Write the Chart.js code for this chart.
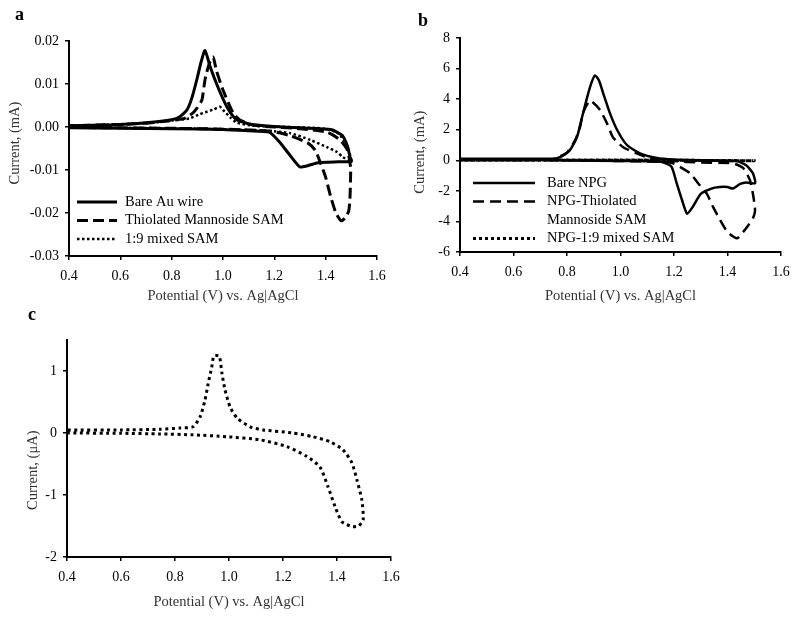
<!DOCTYPE html>
<html>
<head>
<meta charset="utf-8">
<script src="https://cdn.jsdelivr.net/npm/chart.js@4.4.0/dist/chart.umd.min.js"></script>
<style>
  html, body { margin: 0; padding: 0; background: #fff; }
  #wrap { position: relative; width: 800px; height: 620px; overflow: hidden; background: #fff; }
  canvas { position: absolute; }
  #panel-a { left: 0; top: 0; }
  #panel-b { left: 400px; top: 0; }
  #panel-c { left: 0; top: 300px; }
</style>
</head>
<body>
<div id="wrap">
  <canvas id="panel-c" width="400" height="320"></canvas>
  <canvas id="panel-a" width="400" height="310"></canvas>
  <canvas id="panel-b" width="400" height="310"></canvas>
</div>
<script>
// shared x axis (potential, V)
const xTickVals = [0.4, 0.6, 0.8, 1.0, 1.2, 1.4, 1.6];
const xTickLabels = ['0.4', '0.6', '0.8', '1.0', '1.2', '1.4', '1.6'];

// panel a: Au wire, current in mA
const aLabels = ['Bare Au wire', 'Thiolated Mannoside SAM', '1:9 mixed SAM'];
const aYTickVals = [-0.03, -0.02, -0.01, 0.0, 0.01, 0.02];
const aYTickLabels = ['-0.03', '-0.02', '-0.01', '0.00', '0.01', '0.02'];
const aBareV = [0.40, 0.60, 0.80, 1.00, 1.10, 1.18, 1.22, 1.26, 1.30, 1.33, 1.37, 1.45, 1.50, 1.495, 1.485, 1.465, 1.42, 1.30, 1.20, 1.12, 1.08, 1.05, 1.015, 0.98, 0.95, 0.93, 0.915, 0.90, 0.88, 0.86, 0.83, 0.80, 0.70, 0.60, 0.50, 0.40];
const aBareI = [-0.0002, -0.0003, -0.0004, -0.0006, -0.0009, -0.0012, -0.0035, -0.0065, -0.0093, -0.0090, -0.0083, -0.0081, -0.0080, -0.0070, -0.0045, -0.0020, -0.0006, -0.0002, 0.0001, 0.0005, 0.0011, 0.0018, 0.0047, 0.0093, 0.0140, 0.0178, 0.0152, 0.0115, 0.0070, 0.0040, 0.0023, 0.0017, 0.0010, 0.0006, 0.0004, 0.0003];
const aThioV = [0.40, 0.80, 1.00, 1.10, 1.19, 1.26, 1.33, 1.36, 1.38, 1.40, 1.42, 1.44, 1.46, 1.475, 1.49, 1.495, 1.497, 1.497, 1.485, 1.456, 1.405, 1.30, 1.20, 1.12, 1.066, 1.039, 1.00, 0.975, 0.961, 0.945, 0.93, 0.918, 0.90, 0.883, 0.85, 0.80, 0.70, 0.60, 0.40];
const aThioI = [-0.0001, -0.0003, -0.0005, -0.0007, -0.0010, -0.0020, -0.0037, -0.0055, -0.0084, -0.0117, -0.0163, -0.0200, -0.0218, -0.0212, -0.0195, -0.0160, -0.0117, -0.0093, -0.0054, -0.0030, -0.0012, -0.0004, 0.0000, 0.0004, 0.0016, 0.0033, 0.0086, 0.0130, 0.0163, 0.0145, 0.0110, 0.0063, 0.0045, 0.0033, 0.0020, 0.0015, 0.0009, 0.0006, 0.0003];
const aMixV = [0.40, 0.80, 1.00, 1.15, 1.20, 1.26, 1.34, 1.405, 1.444, 1.467, 1.49, 1.50, 1.495, 1.48, 1.45, 1.40, 1.25, 1.12, 1.054, 1.027, 1.00, 0.988, 0.96, 0.93, 0.91, 0.87, 0.80, 0.70, 0.60, 0.40];
const aMixI = [-0.0001, -0.0003, -0.0005, -0.0008, -0.0010, -0.0014, -0.0030, -0.0047, -0.0058, -0.0070, -0.0078, -0.0080, -0.0065, -0.0040, -0.0015, -0.0004, 0.0000, 0.0003, 0.0010, 0.0023, 0.0040, 0.0047, 0.0040, 0.0034, 0.0030, 0.0020, 0.0015, 0.0009, 0.0006, 0.0003];

// panel b: nanoporous gold, current in mA
const bLabels = ['Bare NPG', ['NPG-Thiolated', 'Mannoside SAM'], 'NPG-1:9 mixed SAM'];
const bYTickVals = [-6, -4, -2, 0, 2, 4, 6, 8];
const bYTickLabels = ['-6', '-4', '-2', '0', '2', '4', '6', '8'];
const bBareV = [0.40, 0.60, 0.80, 1.00, 1.15, 1.19, 1.21, 1.23, 1.249, 1.27, 1.30, 1.34, 1.37, 1.40, 1.42, 1.447, 1.47, 1.503, 1.495, 1.47, 1.435, 1.30, 1.20, 1.136, 1.073, 1.024, 0.987, 0.96, 0.935, 0.92, 0.905, 0.89, 0.875, 0.856, 0.837, 0.81, 0.774, 0.75, 0.60, 0.40];
const bBareI = [0.05, 0.05, 0.0, -0.05, -0.1, -0.4, -1.5, -2.6, -3.5, -3.05, -2.2, -1.85, -1.75, -1.75, -1.85, -1.55, -1.45, -1.5, -0.85, -0.33, -0.05, 0.0, 0.05, 0.15, 0.45, 1.0, 2.0, 3.1, 4.4, 5.2, 5.55, 5.0, 4.1, 2.8, 1.5, 0.65, 0.2, 0.1, 0.1, 0.1];
const bThioV = [0.40, 0.80, 1.00, 1.15, 1.197, 1.26, 1.29, 1.323, 1.346, 1.372, 1.40, 1.435, 1.458, 1.48, 1.495, 1.503, 1.497, 1.484, 1.458, 1.42, 1.30, 1.20, 1.11, 1.06, 1.01, 0.972, 0.95, 0.923, 0.886, 0.86, 0.849, 0.83, 0.80, 0.767, 0.74, 0.40];
const bThioI = [0.05, 0.0, -0.05, -0.1, -0.2, -0.85, -1.5, -2.2, -3.05, -3.9, -4.7, -5.1, -4.7, -4.2, -3.8, -3.3, -2.4, -1.3, -0.5, -0.2, -0.15, -0.05, 0.13, 0.45, 0.85, 1.5, 2.4, 3.3, 3.9, 3.1, 2.2, 1.3, 0.5, 0.2, 0.05, 0.05];
const bMixV = [0.40, 1.00, 1.50, 1.00, 0.40];
const bMixI = [0.0, 0.0, -0.03, 0.02, 0.0];

// panel c: 1:9 mixed SAM on Au wire, current in uA
const cYTickVals = [-2, -1, 0, 1];
const cYTickLabels = ['-2', '-1', '0', '1'];
const cMixV = [0.40, 0.60, 0.744, 0.867, 0.993, 1.115, 1.215, 1.289, 1.337, 1.367, 1.393, 1.418, 1.455, 1.48, 1.497, 1.492, 1.474, 1.455, 1.422, 1.374, 1.311, 1.237, 1.126, 1.078, 1.03, 1.004, 0.985, 0.974, 0.964, 0.944, 0.936, 0.923, 0.911, 0.893, 0.867, 0.818, 0.744, 0.60, 0.40];
const cMixI = [0.0, -0.005, -0.015, -0.03, -0.06, -0.11, -0.22, -0.38, -0.55, -0.87, -1.19, -1.43, -1.51, -1.50, -1.40, -1.08, -0.76, -0.48, -0.27, -0.14, -0.06, 0.0, 0.05, 0.1, 0.24, 0.42, 0.7, 0.96, 1.24, 1.24, 1.06, 0.8, 0.53, 0.26, 0.1, 0.08, 0.06, 0.05, 0.05];

const SERIF = '"Liberation Serif", "Times New Roman", serif';
const X_TITLE = 'Potential (V) vs. Ag|AgCl';

Chart.defaults.font.family = SERIF;
Chart.defaults.color = '#000';

const pts = (vs, is) => vs.map((v, k) => ({ x: v, y: is[k] }));

const line = (label, data, width, dash) => ({
    label, data,
    showLine: true,
    pointRadius: 0,
    borderColor: '#000',
    borderWidth: width,
    borderDash: dash,
    tension: 0.2,
    fill: false,
});

// draws the legend rows inside the plot, using each dataset's own line style
const cvLegend = {
    id: 'cvLegend',
    afterDatasetsDraw(chart, args, opts) {
        if (!opts.items) return;
        const ctx = chart.ctx;
        let y = opts.y;
        ctx.save();
        ctx.font = '14.5px ' + SERIF;
        ctx.fillStyle = '#000';
        ctx.textBaseline = 'middle';
        opts.items.forEach((text, i) => {
            const ds = chart.data.datasets[i];
            ctx.beginPath();
            ctx.lineWidth = ds.borderWidth;
            ctx.strokeStyle = ds.borderColor;
            ctx.setLineDash(ds.borderDash || []);
            ctx.moveTo(opts.x0, y);
            ctx.lineTo(opts.x1, y);
            ctx.stroke();
            ctx.setLineDash([]);
            [].concat(text).forEach(t => {
                ctx.fillText(t, opts.textX, y);
                y += opts.dy;
            });
        });
        ctx.restore();
    },
};

// panel letter (a, b, c)
const panelTag = {
    id: 'panelTag',
    afterDraw(chart, args, opts) {
        const ctx = chart.ctx;
        ctx.save();
        ctx.font = 'bold 18px ' + SERIF;
        ctx.fillStyle = '#000';
        ctx.fillText(opts.text, opts.x, opts.y);
        ctx.restore();
    },
};

function xAxis(boxH, titlePad) {
    return {
        type: 'linear',
        min: 0.4,
        max: 1.6,
        afterBuildTicks: s => { s.ticks = xTickVals.map(v => ({ value: v })); },
        afterFit: s => { s.height = boxH; s.paddingLeft = 0; s.paddingRight = 0; },
        ticks: { callback: (v, i) => xTickLabels[i], padding: 8, font: { size: 14 }, color: '#000', maxRotation: 0, autoSkip: false },
        grid: { drawOnChartArea: false, drawTicks: true, tickLength: 4, color: '#000', lineWidth: 1.5 },
        border: { display: true, color: '#000', width: 2 },
        title: { display: true, text: X_TITLE, color: '#333', font: { size: 14.5 }, padding: { top: 0, bottom: titlePad } },
    };
}

function yAxis(vals, labels, max, boxW, title, titlePad) {
    return {
        type: 'linear',
        min: vals[0],
        max: max,
        afterBuildTicks: s => { s.ticks = vals.map(v => ({ value: v })); },
        afterFit: s => { s.width = boxW; s.paddingTop = 0; s.paddingBottom = 0; },
        ticks: { callback: (v, i) => labels[i], padding: 6, font: { size: 14 }, color: '#000', autoSkip: false },
        grid: { drawOnChartArea: false, drawTicks: true, tickLength: 4, color: '#000', lineWidth: 1.5 },
        border: { display: true, color: '#000', width: 2 },
        title: { display: true, text: title, color: '#333', font: { size: 14.5 }, padding: { top: titlePad, bottom: 0 } },
    };
}

function panelOptions(pad, x, y, plugins) {
    return {
        responsive: false,
        animation: false,
        events: [],
        layout: { padding: { left: 0, bottom: 0, top: pad.top, right: pad.right } },
        scales: { x, y },
        plugins: Object.assign({ legend: { display: false }, tooltip: { enabled: false } }, plugins),
    };
}

new Chart(document.getElementById('panel-a'), {
    type: 'scatter',
    data: {
        datasets: [
            line(aLabels[0], pts(aBareV, aBareI), 3, []),
            line(aLabels[1], pts(aThioV, aThioI), 3, [11, 5]),
            line(aLabels[2], pts(aMixV, aMixI), 2.5, [2.5, 2.5]),
        ],
    },
    options: panelOptions(
        { top: 41, right: 23 },
        xAxis(54, 5),
        yAxis(aYTickVals, aYTickLabels, 0.02, 69, '   Current, (mA)', 6),
        {
            cvLegend: { items: aLabels, x0: 77, x1: 117, textX: 125, y: 202, dy: 18.5 },
            panelTag: { text: 'a', x: 15, y: 20 },
        }
    ),
    plugins: [cvLegend, panelTag],
});

new Chart(document.getElementById('panel-b'), {
    type: 'scatter',
    data: {
        datasets: [
            line('Bare NPG', pts(bBareV, bBareI), 2.5, []),
            line('NPG-Thiolated Mannoside SAM', pts(bThioV, bThioI), 2.5, [11, 6]),
            line('NPG-1:9 mixed SAM', pts(bMixV, bMixI), 3, [3, 3]),
        ],
    },
    options: panelOptions(
        { top: 38, right: 19 },
        xAxis(58, 5),
        yAxis(bYTickVals, bYTickLabels, 8, 60, 'Current, (mA)    ', 11),
        {
            cvLegend: { items: bLabels, x0: 73, x1: 135, textX: 147, y: 183, dy: 18.5 },
            panelTag: { text: 'b', x: 18, y: 26 },
        }
    ),
    plugins: [cvLegend, panelTag],
});

new Chart(document.getElementById('panel-c'), {
    type: 'scatter',
    data: {
        datasets: [
            line('1:9 mixed SAM', pts(cMixV, cMixI), 3, [3, 3.5]),
        ],
    },
    options: panelOptions(
        { top: 40, right: 9 },
        xAxis(63, 9),
        yAxis(cYTickVals, cYTickLabels, 1.5, 67, 'Current, (\u03bcA)' + ' '.repeat(12), 24),
        {
            panelTag: { text: 'c', x: 28, y: 320 - 300 },
        }
    ),
    plugins: [panelTag],
});
</script>
</body>
</html>
